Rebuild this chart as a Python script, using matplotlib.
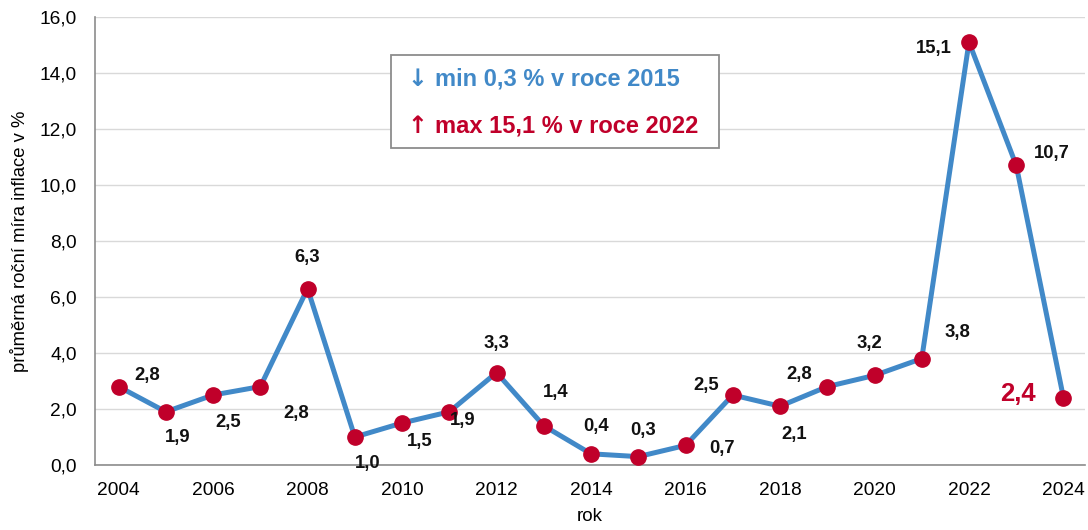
import matplotlib.pyplot as plt

plt.rcParams['font.family'] = ['Liberation Sans', 'DejaVu Sans']

years = list(range(2004, 2025))
inflation = [2.8, 1.9, 2.5, 2.8, 6.3, 1.0, 1.5, 1.9, 3.3, 1.4, 0.4, 0.3, 0.7,
             2.5, 2.1, 2.8, 3.2, 3.8, 15.1, 10.7, 2.4]
x_ticks = list(range(2004, 2025, 2))
y_ticks = [0, 2, 4, 6, 8, 10, 12, 14, 16]

# label offsets in pixels (dx, dy) relative to each point
offsets = [(29, 11), (12, -26), (15, -27), (36, -27), (0, 31), (13, -26),
           (18, -18), (13, -9), (0, 29), (12, 33), (5, 27), (5, 26),
           (37, -3), (-27, 10), (14, -28), (-28, 12), (-5, 32), (36, 26),
           (-35, -6), (36, 12), (-46, 4)]

blue = '#4189c8'
red = '#c0002a'

fig = plt.figure(figsize=(10.88, 5.30), dpi=100)
ax = fig.add_axes([0.0873, 0.1226, 0.9097, 0.8454])

ax.plot(years, inflation, color=blue, lw=3.6, zorder=2)
ax.plot(years, inflation, 'o', color=red, ms=11, zorder=3)

for i, (yr, v) in enumerate(zip(years, inflation)):
    txt = f'{v:.1f}'.replace('.', ',')
    last = i == len(years) - 1
    ax.annotate(txt, (yr, v), xytext=offsets[i], textcoords='offset pixels',
                ha='center', va='center', fontweight='bold',
                fontsize=18.5 if last else 13.3,
                color=red if last else '#111111', zorder=4)

ax.set_xlim(2003.5, 2024.45)
ax.set_ylim(0, 16)
ax.set_xticks(x_ticks)
ax.set_yticks(y_ticks)
ax.set_yticklabels([f'{t:.1f}'.replace('.', ',') for t in y_ticks])
ax.tick_params(length=0, labelsize=13.8)
ax.tick_params(axis='y', pad=13)
ax.tick_params(axis='x', pad=12)
ax.grid(axis='y', color='#d9d9d9', lw=1)
ax.set_axisbelow(True)
for s in ['top', 'right']:
    ax.spines[s].set_visible(False)
for s in ['left', 'bottom']:
    ax.spines[s].set_color('#8c8c8c')
    ax.spines[s].set_linewidth(1.2)

ax.set_xlabel('rok', fontsize=13.5, labelpad=7)
ax.set_ylabel('průměrná roční míra inflace v %', fontsize=13.3, labelpad=8)

# min / max box
fig.patches.append(plt.Rectangle((391 / 1088, 1 - 148 / 530), 328 / 1088, 93 / 530,
                                 transform=fig.transFigure, fill=True,
                                 facecolor='white', edgecolor='#8c8c8c', lw=1.3,
                                 zorder=5))
for yy, arrow, label, col in [(79, '↓', 'min 0,3 % v roce 2015', blue),
                              (126, '↑', 'max 15,1 % v roce 2022', red)]:
    fig.text(417 / 1088, 1 - yy / 530, arrow, color=col, fontsize=17,
             fontweight='bold', family='DejaVu Sans', ha='center', va='center',
             zorder=6)
    fig.text(435 / 1088, 1 - yy / 530, label, color=col, fontsize=17,
             fontweight='bold', va='center', zorder=6)

fig.savefig('out.png', dpi=100)
